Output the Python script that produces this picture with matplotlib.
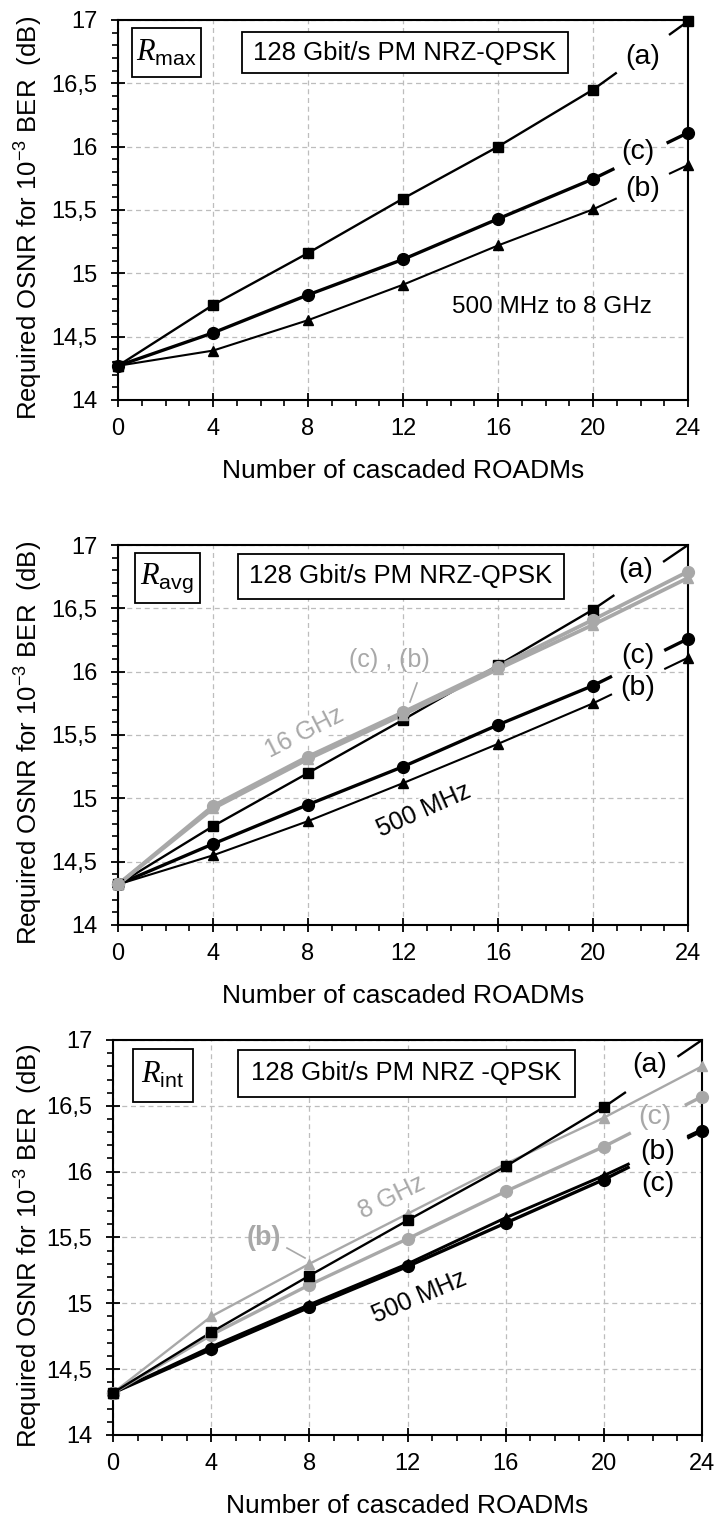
import numpy as np
import matplotlib
matplotlib.use('Agg')
import matplotlib.pyplot as plt
from matplotlib.patches import Rectangle
from matplotlib.lines import Line2D
from matplotlib.ticker import MultipleLocator

plt.rcParams['font.family'] = ['Liberation Sans', 'DejaVu Sans']
plt.rcParams['mathtext.fontset'] = 'custom'
plt.rcParams['mathtext.it'] = 'Liberation Serif:italic'
plt.rcParams['mathtext.rm'] = 'Liberation Sans'
plt.rcParams['mathtext.default'] = 'rm'

# ---------------- data ----------------
roadms = [0, 4, 8, 12, 16, 20, 24]
x_ticks = [0, 4, 8, 12, 16, 20, 24]
y_ticks = [14, 14.5, 15, 15.5, 16, 16.5, 17]
y_ticklabels = ['14', '14,5', '15', '15,5', '16', '16,5', '17']

# R_max
max_a = [14.27, 14.75, 15.16, 15.59, 16.00, 16.45, 16.99]
max_c = [14.27, 14.53, 14.83, 15.11, 15.43, 15.745, 16.11]
max_b = [14.27, 14.39, 14.63, 14.91, 15.22, 15.505, 15.855]

# R_avg
avg_a = [14.32, 14.78, 15.20, 15.62, 16.05, 16.49, 17.00]
avg_c = [14.32, 14.64, 14.95, 15.25, 15.58, 15.89, 16.26]
avg_b = [14.32, 14.55, 14.82, 15.12, 15.43, 15.75, 16.11]
avg_c16 = [14.32, 14.94, 15.33, 15.68, 16.04, 16.41, 16.79]
avg_b16 = [14.32, 14.92, 15.31, 15.66, 16.02, 16.37, 16.74]

# R_int
int_a = [14.32, 14.78, 15.21, 15.63, 16.04, 16.49, 17.00]
int_b8 = [14.32, 14.90, 15.30, 15.68, 16.06, 16.41, 16.80]
int_c8 = [14.32, 14.76, 15.14, 15.49, 15.85, 16.19, 16.57]
int_b = [14.32, 14.67, 14.99, 15.30, 15.65, 15.97, 16.32]
int_c = [14.32, 14.65, 14.97, 15.28, 15.61, 15.94, 16.31]

BLACK = 'black'
GRAY = '#a8a8a8'

W, H = 717, 1523
fig = plt.figure(figsize=(W / 100, H / 100), dpi=100)


def fx(x):
    return x / W


def fy(y):
    return 1 - y / H


def make_axes(left, right, top, bottom):
    ax = fig.add_axes([fx(left), fy(bottom), (right - left) / W, (bottom - top) / H])
    ax.set_xlim(0, 24)
    ax.set_ylim(14, 17)
    ax.set_xticks(x_ticks)
    ax.set_yticks(y_ticks)
    ax.set_yticklabels(y_ticklabels)
    ax.xaxis.set_minor_locator(MultipleLocator(1))
    ax.yaxis.set_minor_locator(MultipleLocator(0.1))
    ax.tick_params(which='major', direction='inout', length=10, width=1.3,
                   labelsize=17, top=False, right=False, color='black')
    ax.tick_params(axis='x', which='major', pad=8)
    ax.tick_params(axis='y', which='major', pad=10)
    ax.tick_params(which='minor', direction='out', length=4, width=1.2,
                   top=False, right=False)
    ax.set_axisbelow(True)
    ax.grid(True, which='major', linestyle=(0, (4, 3)), color='#bdbdbd', lw=0.9)
    for s in ax.spines.values():
        s.set_linewidth(1.5)
    hpx = bottom - top
    wpx = right - left
    ax.set_xlabel('Number of cascaded ROADMs', fontsize=19)
    ax.xaxis.label.set_va('center')
    ax.xaxis.set_label_coords(0.5, -71 / hpx)
    ax.set_ylabel('Required OSNR for 10$^{-3}$ BER  (dB)', fontsize=18.5)
    ax.yaxis.label.set_va('center')
    ax.yaxis.set_label_coords((29 - left) / wpx, 0.478)
    return ax


def series(ax, vals, color, lw, marker, ms, gap=None, end_marker=True, z=3):
    x = np.array(roadms, dtype=float)
    y = np.array(vals, dtype=float)
    mk = dict(ls='none', marker=marker, ms=ms, color=color, mec=color,
              clip_on=False, zorder=z + 0.5)
    if gap is None:
        ax.plot(x, y, color=color, lw=lw, zorder=z, solid_capstyle='butt')
        ax.plot(x, y, **mk)
        return
    g0, g1 = gap
    slope = (y[-1] - y[-2]) / (x[-1] - x[-2])
    y0 = y[-2] + (g0 - x[-2]) * slope
    y1 = y[-2] + (g1 - x[-2]) * slope
    xs = np.append(x[:-1], g0)
    ys = np.append(y[:-1], y0)
    ax.plot(xs, ys, color=color, lw=lw, zorder=z, solid_capstyle='butt')
    ax.plot(x[:-1], y[:-1], **mk)
    ax.plot([g1, x[-1]], [y1, y[-1]], color=color, lw=lw, zorder=z,
            solid_capstyle='butt', clip_on=False)
    if end_marker:
        ax.plot(x[-1:], y[-1:], **mk)


def box(x0, y0, x1, y1):
    fig.add_artist(Rectangle((fx(x0), fy(y1)), (x1 - x0) / W, (y1 - y0) / H,
                             transform=fig.transFigure, fc='white', ec='black',
                             lw=1.3, zorder=5))


def ftext(x, y, s, **kw):
    kw.setdefault('ha', 'center')
    kw.setdefault('va', 'center')
    kw.setdefault('zorder', 6)
    return fig.text(fx(x), fy(y), s, **kw)


def atext(ax, x, y, s, **kw):
    kw.setdefault('ha', 'center')
    kw.setdefault('va', 'center')
    kw.setdefault('zorder', 1)
    kw.setdefault('rotation_mode', 'anchor')
    return ax.text(fx(x), fy(y), s, transform=fig.transFigure, **kw)


def leader(x0, y0, x1, y1, color):
    fig.add_artist(Line2D([fx(x0), fx(x1)], [fy(y0), fy(y1)],
                          transform=fig.transFigure, color=color, lw=1.2, zorder=6))


GAP = (21.0, 23.2)

# ---------------- panel 1: R_max ----------------
ax1 = make_axes(118, 688, 20, 400)
series(ax1, max_b, BLACK, 1.5, '^', 7.5, gap=GAP)
series(ax1, max_c, BLACK, 2.4, 'o', 8.5, gap=(20.9, 23.1))
series(ax1, max_a, BLACK, 1.7, 's', 7.5, gap=GAP)
box(132, 28, 201, 77)
ftext(166, 53, r'$\mathit{R}_{\mathrm{max}}$', fontsize=22)
box(242, 32, 568, 73)
ftext(405, 53, '128 Gbit/s PM NRZ-QPSK', fontsize=18.5)
ftext(643, 57, '(a)', fontsize=20.5)
ftext(638, 152, '(c)', fontsize=20.5)
ftext(643, 189, '(b)', fontsize=20.5)
atext(ax1, 552, 307, '500 MHz to 8 GHz', fontsize=17.5)

# ---------------- panel 2: R_avg ----------------
ax2 = make_axes(118, 688, 545, 925)
series(ax2, avg_b, BLACK, 1.5, '^', 7.5, gap=(20.8, 23.0))
series(ax2, avg_c, BLACK, 2.4, 'o', 8.5, gap=(20.8, 23.0))
series(ax2, avg_a, BLACK, 1.7, 's', 7.5, gap=(20.9, 22.95), end_marker=False)
series(ax2, avg_b16, GRAY, 2.7, '^', 7.5, z=3.2)
series(ax2, avg_c16, GRAY, 2.7, 'o', 8.5, z=3.2)
box(135, 553, 200, 603)
ftext(167, 578, r'$\mathit{R}_{\mathrm{avg}}$', fontsize=22)
box(238, 554, 564, 599)
ftext(401, 576, '128 Gbit/s PM NRZ-QPSK', fontsize=18.5)
ftext(636, 570, '(a)', fontsize=20.5)
ftext(638, 656, '(c)', fontsize=20.5)
ftext(638, 688, '(b)', fontsize=20.5)
ftext(389, 660, '(c) , (b)', fontsize=18, color=GRAY)
leader(417, 683, 410, 702, GRAY)
atext(ax2, 305, 733, '16 GHz', fontsize=18, color=GRAY, rotation=27,
      bbox=dict(fc='white', ec='none', pad=0.5))
atext(ax2, 424, 810, '500 MHz', fontsize=18, color=BLACK, rotation=24,
      bbox=dict(fc='white', ec='none', pad=0.5))

# ---------------- panel 3: R_int ----------------
ax3 = make_axes(113, 702, 1040, 1435)
series(ax3, int_c, BLACK, 2.4, 'o', 8.5, gap=(21.05, 23.4))
series(ax3, int_b, BLACK, 2.1, '^', 7.5, gap=(21.05, 23.4), end_marker=False)
series(ax3, int_c8, GRAY, 2.4, 'o', 8.5, gap=(21.1, 23.3), z=3.1)
series(ax3, int_b8, GRAY, 1.7, '^', 7.5, z=3.1)
series(ax3, int_a, BLACK, 1.7, 's', 7.5, gap=(20.9, 23.0), end_marker=False, z=3.3)
box(133, 1049, 193, 1102)
ftext(163, 1075, r'$\mathit{R}_{\mathrm{int}}$', fontsize=22)
box(238, 1050, 575, 1097)
ftext(406, 1073, '128 Gbit/s PM NRZ -QPSK', fontsize=18.5)
ftext(650, 1065, '(a)', fontsize=20.5)
ftext(655, 1117, '(c)', fontsize=20.5, color=GRAY)
ftext(658, 1152, '(b)', fontsize=20.5)
ftext(658, 1184, '(c)', fontsize=20.5)
ftext(264, 1238, '(b)', fontsize=19.5, color=GRAY, fontweight='bold')
leader(287, 1248, 305, 1258, GRAY)
atext(ax3, 392, 1197, '8 GHz', fontsize=18, color=GRAY, rotation=26,
      bbox=dict(fc='white', ec='none', pad=0.5))
atext(ax3, 419, 1297, '500 MHz', fontsize=18, color=BLACK, rotation=23,
      bbox=dict(fc='white', ec='none', pad=0.5))

fig.savefig('out.png', dpi=100)
